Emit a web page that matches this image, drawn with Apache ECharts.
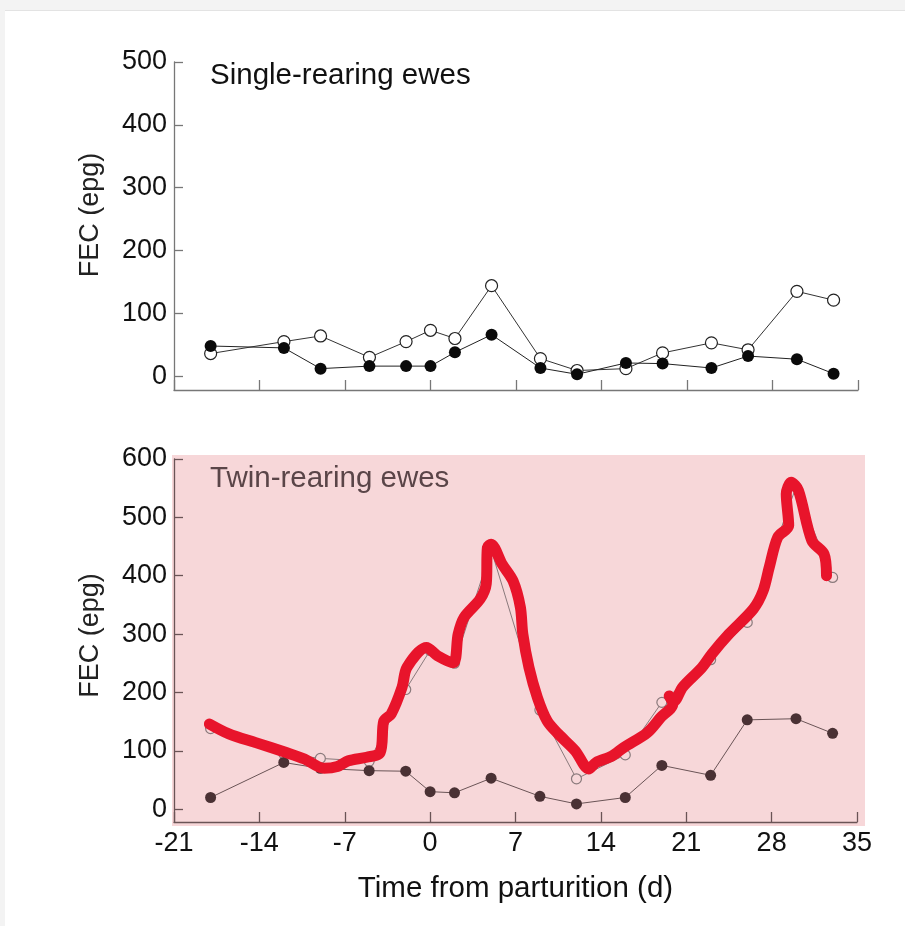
<!DOCTYPE html>
<html>
<head>
<meta charset="utf-8">
<style>
  html, body { margin: 0; padding: 0; background: #fff; }
  #chart { width: 905px; height: 926px; }
</style>
<script src="https://cdn.jsdelivr.net/npm/echarts@6/dist/echarts.min.js"></script>
</head>
<body>
<div id="chart"></div>
<script>
// ---- data ----
const days = [-18, -12, -9, -5, -2, 0, 2, 5, 9, 12, 16, 19, 23, 26, 30, 33];
const singleOpen   = [36, 55, 64, 30, 55, 73, 60, 144, 28, 9, 12, 37, 53, 42, 135, 121];
const singleFilled = [48, 45, 12, 16, 16, 16, 38, 66, 13, 3, 21, 20, 13, 32, 27, 4];
const twinOpen     = [138, 95, 87, 82, 205, 272, 250, 445, 170, 52, 93, 183, 256, 320, 552, 397];
const twinFilled   = [20, 80, 70, 66, 65, 30, 28, 53, 22, 9, 20, 75, 58, 153, 155, 130];
// hand-drawn red annotation over the twin-rearing open series
const redDays   = [-18.1, -16.5, -14.3, -11.8, -10.3, -8.7, -7.6, -6.7, -5.2, -4.1, -3.8, -3.2, -2.3, -1.9, -0.3, 0.6, 1.9, 2.3, 2.8, 4.1, 4.6, 4.7, 5.0, 5.9, 6.8, 7.4, 7.6, 8.1, 8.8, 9.6, 10.5, 11.9, 13.0, 13.6, 14.9, 15.9, 17.8, 18.9, 19.9, 19.6, 20.0, 20.7, 22.3, 23.1, 24.5, 26.5, 27.3, 27.8, 28.5, 29.4, 29.2, 29.6, 30.2, 31.3, 32.3, 32.5];
const redValues = [146, 129, 114, 97, 86, 70, 73, 83, 89, 97, 151, 163, 209, 243, 277, 263, 251, 300, 329, 360, 386, 449, 454, 420, 391, 346, 300, 243, 191, 151, 129, 100, 69, 80, 91, 106, 131, 157, 180, 194, 185, 209, 243, 266, 300, 343, 374, 414, 466, 486, 540, 560, 546, 460, 437, 400];
const xTicks = [-21, -14, -7, 0, 7, 14, 21, 28, 35];
const topYTicks = [0, 100, 200, 300, 400, 500];
const bottomYTicks = [0, 100, 200, 300, 400, 500, 600];
const titleTop = 'Single-rearing ewes';
const titleBottom = 'Twin-rearing ewes';
const yName = 'FEC (epg)';
const xName = 'Time from parturition (d)';

const pairs = (xs, ys) => xs.map((x, i) => [x, ys[i]]);

const FONT = 'Liberation Sans';
const pink = '#f7d7d9';

const chart = echarts.init(document.getElementById('chart'), null, { renderer: 'canvas' });

function xAxis(gridIndex, showLabels, color) {
  return {
    type: 'value', gridIndex, min: -21, max: 35, interval: 7,
    axisLine: { show: true, onZero: false, lineStyle: { color, width: 1.3 } },
    axisTick: { show: true, inside: true, length: 10, lineStyle: { color, width: 1.3 } },
    axisLabel: { show: showLabels, color: '#111', fontSize: 27, fontFamily: FONT, margin: 8 },
    splitLine: { show: false },
    name: showLabels ? xName : '',
    nameLocation: 'middle', nameGap: 52,
    nameTextStyle: { color: '#111', fontSize: 29.5, fontFamily: FONT }
  };
}
function yAxis(gridIndex, max, ticks, color, pad) {
  return {
    type: 'value', gridIndex, min: -22, max,
    axisLine: { show: true, onZero: false, lineStyle: { color, width: 1.3 } },
    axisTick: { show: true, inside: true, length: 9, customValues: ticks, lineStyle: { color, width: 1.3 } },
    axisLabel: { show: true, customValues: ticks, color: '#111', fontSize: 27, fontFamily: FONT, margin: 7 },
    splitLine: { show: false },
    name: yName, nameLocation: 'middle', nameGap: 70, nameRotate: 90,
    nameTextStyle: { color: '#222', fontSize: 27, fontFamily: FONT, padding: [0, 0, 0, pad] }
  };
}

const option = {
  backgroundColor: '#fff',
  animation: false,
  graphic: [
    { type: 'rect', shape: { x: 0, y: 0, width: 905, height: 10 }, style: { fill: '#f3f3f3' }, z: -10, silent: true },
    { type: 'rect', shape: { x: 0, y: 10, width: 905, height: 1 }, style: { fill: '#e3e3e3' }, z: -10, silent: true },
    { type: 'rect', shape: { x: 0, y: 0, width: 5, height: 926 }, style: { fill: '#f3f3f3' }, z: -10, silent: true },
    { type: 'rect', shape: { x: 172, y: 455, width: 693, height: 371 }, style: { fill: pink }, z: -5, silent: true },
    { type: 'text', left: 210, top: 61, style: { text: titleTop, fill: '#111', font: '29.5px "Liberation Sans"' }, z: 10 },
    { type: 'text', left: 210, top: 464, style: { text: titleBottom, fill: '#5a4548', font: '29.5px "Liberation Sans"' }, z: 10 }
  ],
  grid: [
    { left: 174, right: 47, top: 62, height: 328 },
    { left: 174, right: 48, top: 459, height: 363 }
  ],
  xAxis: [xAxis(0, false, '#777'), xAxis(1, true, '#6a5456')],
  yAxis: [yAxis(0, 500, topYTicks, '#777', 22), yAxis(1, 600, bottomYTicks, '#6a5456', 10)],
  series: [
    {
      type: 'line', xAxisIndex: 0, yAxisIndex: 0, data: pairs(days, singleOpen),
      symbol: 'circle', symbolSize: 12, z: 2,
      itemStyle: { color: '#fff', borderColor: '#222', borderWidth: 1.2 },
      lineStyle: { color: '#333', width: 1 }
    },
    {
      type: 'line', xAxisIndex: 0, yAxisIndex: 0, data: pairs(days, singleFilled),
      symbol: 'circle', symbolSize: 12, z: 3,
      itemStyle: { color: '#0a0a0a', borderColor: '#0a0a0a', borderWidth: 0 },
      lineStyle: { color: '#222', width: 1 }
    },
    {
      type: 'line', xAxisIndex: 1, yAxisIndex: 1, data: pairs(days, twinOpen),
      symbol: 'circle', symbolSize: 10, z: 2,
      itemStyle: { color: pink, borderColor: '#8a7a7c', borderWidth: 1.2 },
      lineStyle: { color: '#8a7a7c', width: 1 }
    },
    {
      type: 'line', xAxisIndex: 1, yAxisIndex: 1, data: pairs(days, twinFilled),
      symbol: 'circle', symbolSize: 11, z: 3,
      itemStyle: { color: '#4a3134', borderWidth: 0 },
      lineStyle: { color: '#6a5456', width: 1 }
    },
    {
      type: 'line', xAxisIndex: 1, yAxisIndex: 1, data: pairs(redDays, redValues),
      symbol: 'none', smooth: 0.3, z: 5,
      lineStyle: { color: '#e8142b', width: 11, cap: 'round', join: 'round' }
    }
  ]
};
chart.setOption(option);
</script>
</body>
</html>
